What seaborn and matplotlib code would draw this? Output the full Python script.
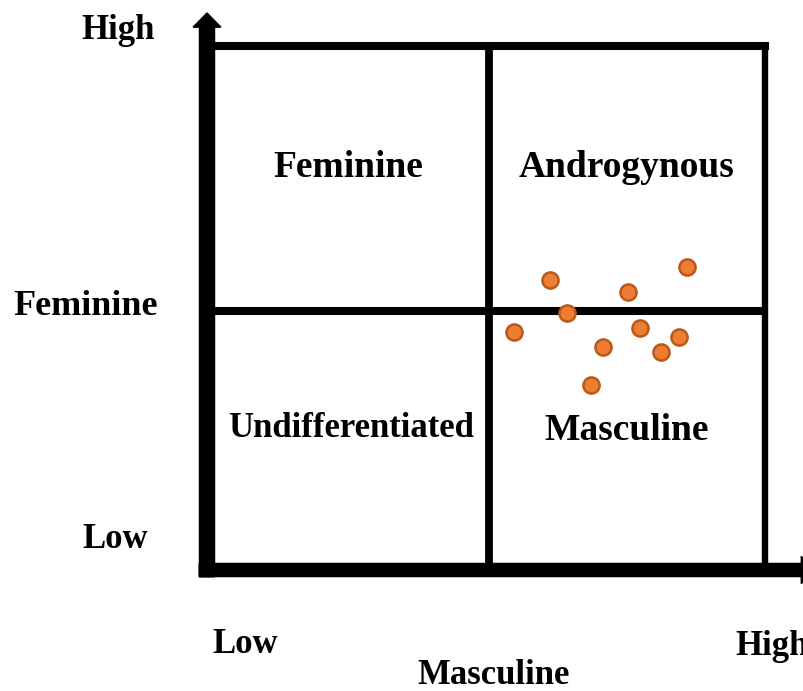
import matplotlib
matplotlib.use("Agg")
import matplotlib.pyplot as plt
import seaborn as sns
import pandas as pd

# quadrant split (data units, frame is 0..10 on both axes)
MID_X = 5.05
MID_Y = 4.94

# scatter points: masculinity score, femininity score
masc_scores = [6.15, 6.45, 5.50, 7.10, 6.88, 7.54, 7.76, 8.14, 8.46, 8.60]
fem_scores = [5.53, 4.90, 4.54, 4.26, 3.53, 5.31, 4.62, 4.16, 4.45, 5.78]

quadrant_names = ["Feminine", "Androgynous", "Undifferentiated", "Masculine"]
level_labels = ["Low", "High"]
axis_names = ["Masculine", "Feminine"]

sns.set_style("white")
plt.rcParams["font.family"] = ["Liberation Serif", "DejaVu Serif"]
plt.rcParams["font.weight"] = "bold"
plt.rcParams["text.color"] = "black"

W, H = 804, 691
fig = plt.figure(figsize=(W / 100, H / 100), dpi=100)
ax = fig.add_axes([207 / W, 1 - 570 / H, (765 - 207) / W, (570 - 46) / H])
ax.set_xlim(0, 10)
ax.set_ylim(0, 10)

df = pd.DataFrame({"masc": masc_scores, "fem": fem_scores})

# grid lines
ax.plot([0, 10], [10, 10], color="black", lw=5.8, solid_capstyle="projecting", clip_on=False)
ax.plot([10, 10], [0, 10], color="black", lw=4.6, solid_capstyle="projecting", clip_on=False)
ax.plot([MID_X, MID_X], [0, 10], color="black", lw=5.6, solid_capstyle="butt", clip_on=False)
ax.plot([0, 10], [MID_Y, MID_Y], color="black", lw=5.8, solid_capstyle="butt", clip_on=False)

# thick axes with arrows
ax.arrow(0, -0.13, 0, 10.76, width=0.27, head_width=0.5, head_length=0.27,
         length_includes_head=True, color="black", clip_on=False, zorder=3)
ax.arrow(-0.14, 0, 11.04, 0, width=0.25, head_width=0.52, head_length=0.25,
         length_includes_head=True, color="black", clip_on=False, zorder=3)

sns.scatterplot(data=df, x="masc", y="fem", ax=ax, s=135, color="#ED7D31",
                edgecolor="#B9581C", linewidth=1.8, zorder=4, clip_on=False)
ax.axis("off")

# quadrant labels
ax.text(MID_X / 2, 7.5, quadrant_names[0], ha="center", va="baseline",
        fontsize=27, fontweight="bold")
ax.text((MID_X + 10) / 2, 7.5, quadrant_names[1], ha="center", va="baseline",
        fontsize=27, fontweight="bold")
ax.text(MID_X / 2 + 0.05, 2.54, quadrant_names[2], ha="center", va="baseline",
        fontsize=25, fontweight="bold")
ax.text((MID_X + 10) / 2, 2.48, quadrant_names[3], ha="center", va="baseline",
        fontsize=27, fontweight="bold")


# outer labels (figure pixel positions)
def ftext(x, y, s, size, ha="center"):
    fig.text(x / W, 1 - y / H, s, ha=ha, va="baseline", fontsize=size,
             fontweight="bold")


ftext(118, 39, level_labels[1], 25)
ftext(86, 315, axis_names[1], 26)
ftext(115, 548, level_labels[0], 25)
ftext(245, 653, level_labels[0], 25)
ftext(735, 655, level_labels[1], 25, ha="left")
ftext(494, 684, axis_names[0], 25)

fig.savefig("out.png", dpi=100)
